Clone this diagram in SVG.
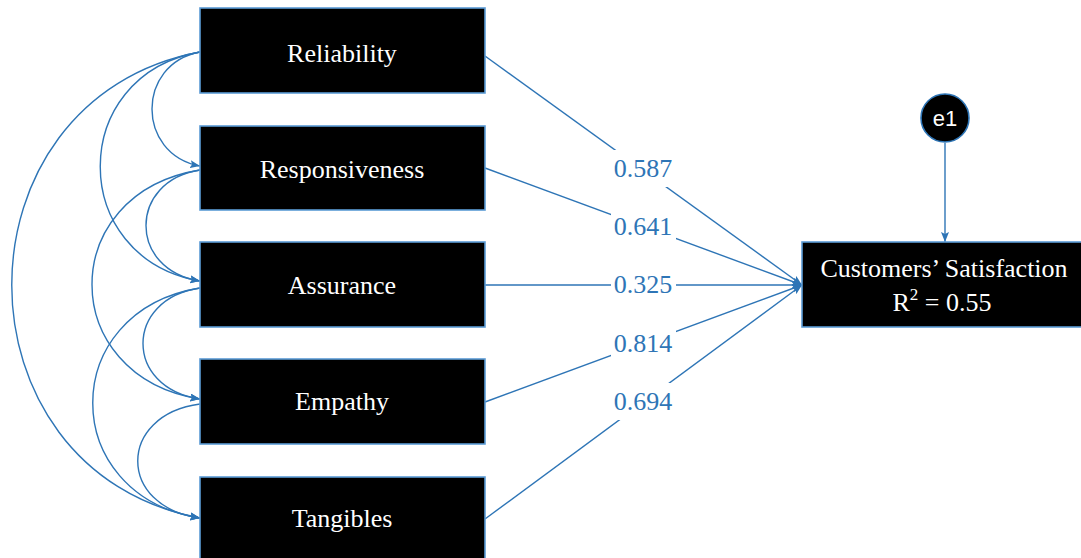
<svg xmlns="http://www.w3.org/2000/svg" width="1081" height="558" viewBox="0 0 1081 558">
  <style>
    .box { fill: #000000; stroke: #5B9BD5; stroke-width: 1.6; }
    .lbl { font-family: "Liberation Serif", "Times New Roman", serif; font-size: 26px; fill: #FFFFFF; text-anchor: middle; }
    .num { font-family: "Liberation Serif", "Times New Roman", serif; font-size: 26px; fill: #2E75B6; text-anchor: middle; }
    .err { font-family: "Liberation Sans", Arial, sans-serif; font-size: 22px; fill: #FFFFFF; text-anchor: middle; }
    .link { fill: none; stroke: #2E75B6; stroke-width: 1.4; marker-end: url(#head); }
    .bg { fill: #FFFFFF; }
  </style>
  <defs>
    <marker id="head" markerUnits="userSpaceOnUse" markerWidth="10" markerHeight="8" refX="10" refY="4" orient="auto">
      <path d="M0,0 L10,4 L0,8 L2,4 z" fill="#2E75B6"/>
    </marker>
  </defs>

  <rect width="1081" height="558" fill="#FFFFFF"/>

  <!-- connectors: covariance arcs, regression paths, error term -->
  <g id="connectors">
    <path class="link" d="M200,52 C136,64 136,154 200,166"/>
    <path class="link" d="M200,52 C67,75 67,258 200,281"/>
    <path class="link" d="M200,52 C-51,99 -51,471 200,518"/>
    <path class="link" d="M200,170 C128,181 128,270 200,281"/>
    <path class="link" d="M200,170 C56,193 56,376 200,399"/>
    <path class="link" d="M200,288 C124,299 124,388 200,399"/>
    <path class="link" d="M200,288 C57,311 57,495 200,518"/>
    <path class="link" d="M200,404 C117,415 117,507 200,518"/>

    <line class="link" x1="485" y1="56" x2="802" y2="285"/>
    <line class="link" x1="485" y1="168" x2="802" y2="285"/>
    <line class="link" x1="485" y1="285" x2="802" y2="285"/>
    <line class="link" x1="485" y1="402" x2="802" y2="285"/>
    <line class="link" x1="485" y1="519" x2="802" y2="285"/>

    <line class="link" x1="945" y1="143" x2="945" y2="242"/>

    <!-- path coefficients -->
    <rect class="bg" x="611" y="150" width="65" height="37"/>
    <text class="num" x="643" y="177">0.587</text>
    <rect class="bg" x="611" y="208" width="65" height="37"/>
    <text class="num" x="643" y="235">0.641</text>
    <rect class="bg" x="611" y="272" width="65" height="26"/>
    <text class="num" x="643" y="293">0.325</text>
    <rect class="bg" x="611" y="325" width="65" height="37"/>
    <text class="num" x="643" y="352">0.814</text>
    <rect class="bg" x="611" y="383" width="65" height="37"/>
    <text class="num" x="643" y="410">0.694</text>
  </g>

  <g id="reliability">
    <rect class="box" x="200" y="8" width="285" height="85"/>
    <text class="lbl" x="342" y="62">Reliability</text>
  </g>
  <g id="responsiveness">
    <rect class="box" x="200" y="126" width="285" height="84"/>
    <text class="lbl" x="342" y="178">Responsiveness</text>
  </g>
  <g id="assurance">
    <rect class="box" x="200" y="242" width="285" height="85"/>
    <text class="lbl" x="342" y="294">Assurance</text>
  </g>
  <g id="empathy">
    <rect class="box" x="200" y="359" width="285" height="85"/>
    <text class="lbl" x="342" y="410">Empathy</text>
  </g>
  <g id="tangibles">
    <rect class="box" x="200" y="477" width="285" height="90"/>
    <text class="lbl" x="342" y="527">Tangibles</text>
  </g>

  <g id="satisfaction">
    <rect class="box" x="802" y="242" width="290" height="85"/>
    <text class="lbl" x="944" y="277">Customers’ Satisfaction</text>
    <text class="lbl" x="942" y="311">R<tspan font-size="17" dy="-11">2</tspan><tspan dy="11"> = 0.55</tspan></text>
  </g>

  <g id="e1">
    <circle cx="945" cy="118" r="24" fill="#000000" stroke="#2E75B6" stroke-width="1.6"/>
    <text class="err" x="945" y="126">e1</text>
  </g>
</svg>
